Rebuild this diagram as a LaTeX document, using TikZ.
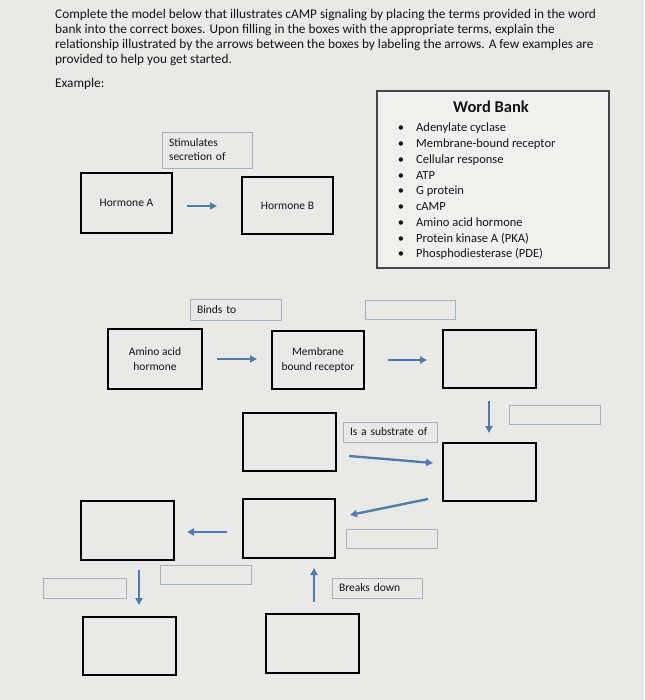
\documentclass[tikz,border=0pt]{standalone}
\usepackage{fontspec}
\setmainfont{Carlito}
\usetikzlibrary{arrows.meta}
\definecolor{bg}{RGB}{233,233,231}
\definecolor{bankbg}{RGB}{240,240,238}
\definecolor{arrowblue}{RGB}{82,122,170}
\definecolor{lblgray}{RGB}{165,177,190}
\definecolor{txt}{RGB}{20,20,20}
\begin{document}
\begin{tikzpicture}[x=1pt,y=-1pt,
  box/.style={draw=black,line width=1.9pt,inner sep=0pt,align=center,
    text=txt,font=\fontsize{11.5}{14.5}\selectfont},
  lbl/.style={draw=lblgray,line width=0.9pt,inner ysep=0pt,inner xsep=7pt,
    align=left,text=txt,font=\fontsize{11.5}{14}\selectfont},
  para/.style={anchor=base west,inner sep=0pt,text=txt,font=\fontsize{13.3}{15}\selectfont},
  item/.style={anchor=base west,inner sep=0pt,text=txt,font=\fontsize{12.5}{15}\selectfont},
  arr/.style={draw=arrowblue,line width=2.3pt,-{Triangle[length=7pt,width=7pt]}}
]
\useasboundingbox[fill=bg] (0,0) rectangle (644,700);

% instructions
\node[para] (p1) at (55,19) {Complete the model below that illustrates cAMP signaling by placing the terms provided in the word};
\node[para] (p2) at (55,34) {bank into the correct boxes. Upon filling in the boxes with the appropriate terms, explain the};
\node[para] (p3) at (55,49) {relationship illustrated by the arrows between the boxes by labeling the arrows. A few examples are};
\node[para] (p4) at (55,64) {provided to help you get started.};
\node[para] (ex) at (55,88) {Example:};

% word bank
\node[draw={rgb,255:red,70;green,70;blue,70},line width=1.2pt,fill=bankbg,
  minimum width=232pt,minimum height=177pt,inner sep=0pt] (bank) at (493,179.5) {};
\node[anchor=base,inner sep=0pt,text=txt,font=\fontsize{16.5}{18}\selectfont\bfseries] (bankt) at (491,112.5) {Word Bank};
\foreach \t [count=\i from 0] in {Adenylate cyclase,Membrane-bound receptor,Cellular response,ATP,G protein,cAMP,Amino acid hormone,Protein kinase A (PKA),Phosphodiesterase (PDE)}{
  \node[item] (w\i) at (416,132+15.75*\i) {\t};
  \node[item,anchor=base] (d\i) at (401,132+15.75*\i) {•};
}

% example row
\node[box,minimum width=91pt,minimum height=60pt] (hA) at (126.5,203) {Hormone A};
\node[box,minimum width=91pt,minimum height=57pt] (hB) at (287.5,205.5) {Hormone B};
\node[lbl,text width=76pt,minimum height=36pt] (stim) at (207,150) {Stimulates\\secretion of};

% row 2
\node[box,minimum width=94pt,minimum height=60pt] (amino) at (155,359) {Amino acid\\hormone};
\node[box,minimum width=92pt,minimum height=58pt] (memb) at (318,360) {Membrane\\bound receptor};
\node[box,minimum width=93pt,minimum height=58pt] (b3) at (489.5,359) {};
\node[lbl,text width=77pt,minimum height=21pt] (binds) at (235.5,309.5) {Binds to};
\node[lbl,text width=76pt,minimum height=19pt] (l2) at (410,309.5) {};
\node[lbl,text width=77pt,minimum height=19pt] (l3) at (554.5,414.5) {};

% middle
\node[box,minimum width=93pt,minimum height=58pt] (c1) at (289.5,442) {};
\node[box,minimum width=93pt,minimum height=58pt] (b4) at (489.5,472) {};
\node[lbl,inner xsep=7pt,text width=80pt,minimum height=20pt] (subst) at (390,432) {Is a substrate of};
\node[box,minimum width=92pt,minimum height=59pt] (c2) at (289,528.5) {};
\node[lbl,text width=77pt,minimum height=19pt] (l4) at (391.5,538.5) {};

% lower
\node[box,minimum width=93pt,minimum height=59pt] (bl1) at (127.5,530.5) {};
\node[lbl,text width=77pt,minimum height=19pt] (l5) at (205.5,574.5) {};
\node[lbl,text width=69pt,minimum height=20pt] (l6) at (84.5,588) {};
\node[box,minimum width=93pt,minimum height=58pt] (bl2) at (129.5,646) {};
\node[lbl,text width=76pt,minimum height=20pt] (brk) at (377,588) {Breaks down};
\node[box,minimum width=93pt,minimum height=59pt] (c3) at (312.5,643.5) {};

% arrow end points
\coordinate (a1s) at (187,206);  \coordinate (a1e) at (217,206);
\coordinate (a2s) at (217,359);  \coordinate (a2e) at (257,359);
\coordinate (a3s) at (388,360);  \coordinate (a3e) at (427,360);
\coordinate (a4s) at (489,401);  \coordinate (a4e) at (489,433);
\coordinate (a5s) at (349,456);  \coordinate (a5e) at (433,463);
\coordinate (a6s) at (428,499);  \coordinate (a6e) at (350,515);
\coordinate (a7s) at (227,532);  \coordinate (a7e) at (187,532);
\coordinate (a8s) at (139,570);  \coordinate (a8e) at (139,605);
\coordinate (a9s) at (314,602);  \coordinate (a9e) at (314,568);

\draw[arr,line width=2pt] (a1s) -- (a1e);
\draw[arr] (a2s) -- (a2e);
\draw[arr] (a3s) -- (a3e);
\draw[arr] (a4s) -- (a4e);
\draw[arr] (a5s) -- (a5e);
\draw[arr] (a6s) -- (a6e);
\draw[arr] (a7s) -- (a7e);
\draw[arr] (a8s) -- (a8e);
\draw[arr] (a9s) -- (a9e);
\end{tikzpicture}
\end{document}
